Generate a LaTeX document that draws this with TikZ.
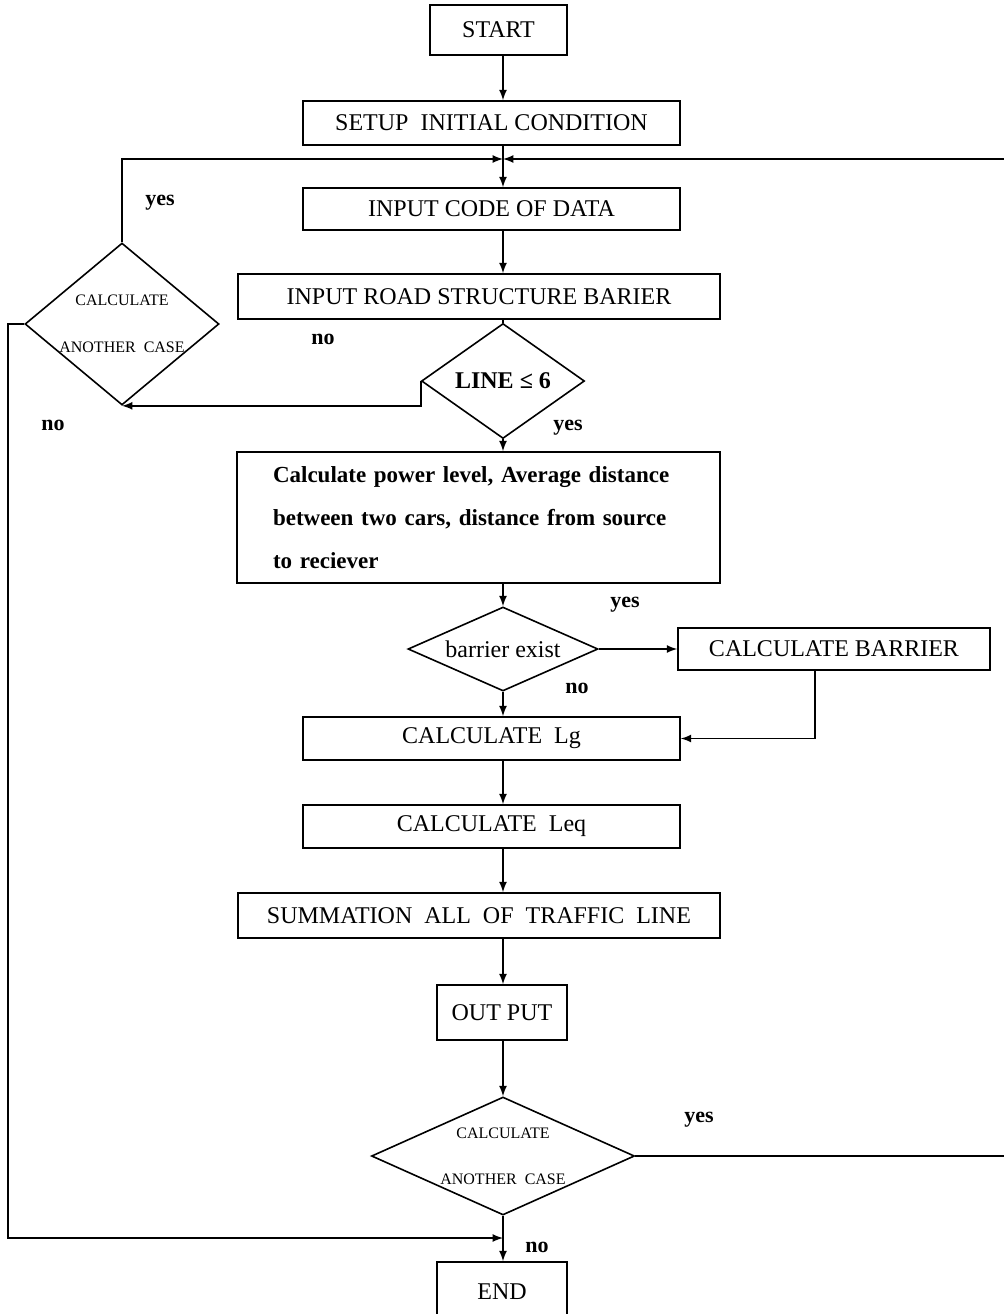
\documentclass[tikz,border=0pt]{standalone}
\usepackage{fontspec}
\setmainfont{Liberation Serif}
\usetikzlibrary{shapes.geometric}

\begin{document}
\begin{tikzpicture}[x=0.5pt,y=-0.5pt,line width=0.8pt,>=latex,
    box/.style={draw,rectangle,inner sep=0pt,font=\fontsize{12}{14}\selectfont},
    decision/.style={draw,diamond,inner sep=0pt,align=center},
    tag/.style={font=\fontsize{11}{13}\selectfont\bfseries}]
    \useasboundingbox (0,0) rectangle (1004,1314);
    \coordinate (spine) at (503,0);
    \node[box,minimum width=68.5pt,minimum height=25pt] (start) at (498.5,30) {START};
    \node[box,minimum width=188.5pt,minimum height=22pt] (setup) at (491.5,123) {SETUP\ \ INITIAL CONDITION};
    \coordinate (feed) at (503,159);
    \node[box,minimum width=188.5pt,minimum height=21pt] (incode) at (491.5,209) {INPUT CODE OF DATA};
    \node[box,minimum width=241pt,minimum height=22.5pt] (inroad) at (479,296.5) {INPUT ROAD STRUCTURE BARIER};
    \node[decision,aspect=1.42,minimum width=81.5pt,minimum height=57.5pt,font=\fontsize{12}{14}\selectfont\bfseries] (line) at (503,381) {LINE ≤ 6};
    \node[decision,aspect=1.2,minimum width=97pt,minimum height=81pt,font=\fontsize{8}{23.5}\selectfont] (again1) at (122,324)
        {\makebox[0pt]{CALCULATE}\\\makebox[0pt]{ANOTHER\ \ CASE}};
    \node[box,minimum width=241.5pt,minimum height=65.5pt,text width=205.5pt,inner xsep=18pt,align=left,
        font=\fontsize{11.5}{21.5}\selectfont\bfseries] (calc) at (478.5,517.5)
        {Calculate power level, Average distance\\ between two cars, distance from source\\ to reciever};
    \node[decision,aspect=2.26,minimum width=95pt,minimum height=42pt,font=\fontsize{12}{14}\selectfont] (barrier) at (503,649) {barrier exist};
    \node[box,minimum width=156pt,minimum height=21pt] (calcbar) at (834,649) {CALCULATE BARRIER};
    \node[box,minimum width=188.5pt,minimum height=21.5pt] (calclg) at (491.5,738.5) {CALCULATE\ \ Lg};
    \node[box,minimum width=188.5pt,minimum height=21.5pt] (calcleq) at (491.5,826.5) {CALCULATE\ \ Leq};
    \node[box,minimum width=241pt,minimum height=22.5pt] (summ) at (479,915.5) {SUMMATION\ \ ALL\ \ OF\ \ TRAFFIC\ \ LINE};
    \node[box,minimum width=65pt,minimum height=27.5pt] (output) at (502,1012.5) {OUT PUT};
    \node[decision,aspect=2.23,minimum width=131.5pt,minimum height=59pt,font=\fontsize{8}{23}\selectfont] (again2) at (503,1156)
        {\makebox[0pt]{CALCULATE}\\\makebox[0pt]{ANOTHER\ \ CASE}};
    \node[box,minimum width=65pt,minimum height=30pt] (finish) at (502,1292) {END};
    \coordinate (rail) at (8,1238);
    \coordinate (edge1) at (1004,159);
    \coordinate (edge2) at (1004,1156);
    % main column
    \draw[->] (start.south -| spine) -- (setup.north -| spine);
    \draw (setup.south -| spine) -- (feed);
    \draw[->] (feed) -- (incode.north -| spine);
    \draw[->] (incode.south -| spine) -- (inroad.north -| spine);
    \draw (inroad.south -| spine) -- (line.north);
    \draw[->] (line.south) -- (calc.north -| spine);
    \draw[->] (calc.south -| spine) -- (barrier.north);
    \draw[->] (barrier.south) -- (calclg.north -| spine);
    \draw[->] (calclg.south -| spine) -- (calcleq.north -| spine);
    \draw[->] (calcleq.south -| spine) -- (summ.north -| spine);
    \draw[->] (summ.south -| spine) -- (output.north -| spine);
    \draw[->] (output.south -| spine) -- (again2.north);
    \draw[->] (again2.south) -- (finish.north -| spine);
    % branches and loops
    \draw[->] (barrier.east) -- (calcbar.west);
    \draw[->] ([xshift=-9.5pt]calcbar.south) |- (calclg.east);
    \draw[->] (line.west) |- (again1.south);
    \draw[->] (again1.north) |- (feed);
    \draw[->] (edge1) -- (feed);
    \draw[->] (again1.west) -| (rail) -- (rail -| spine);
    \draw (again2.east) -- (edge2);
    % labels
    \node[tag] (yes1) at (160,203) {yes};
    \node[tag] (no1) at (323,339) {no};
    \node[tag] (no2) at (53,425) {no};
    \node[tag] (yes2) at (568,428) {yes};
    \node[tag] (yes3) at (625,605) {yes};
    \node[tag] (no3) at (577,688) {no};
    \node[tag] (yes4) at (699,1120) {yes};
    \node[tag] (no4) at (537,1247) {no};
\end{tikzpicture}
\end{document}
